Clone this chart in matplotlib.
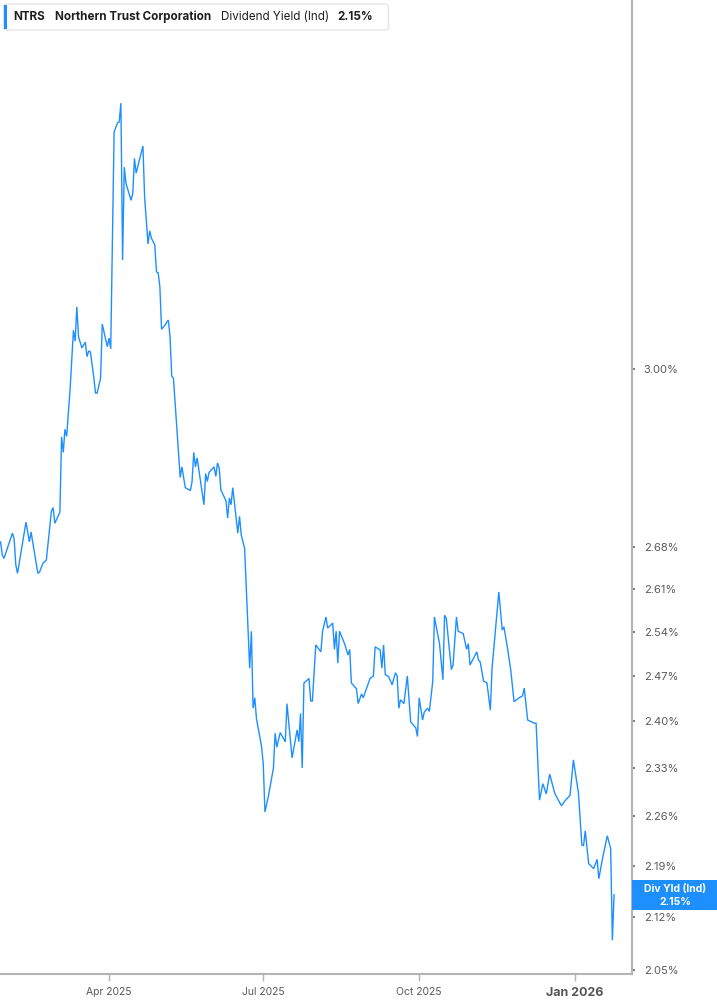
import matplotlib
matplotlib.use("Agg")
import matplotlib.pyplot as plt
import matplotlib.dates as mdates
from matplotlib.patches import FancyBboxPatch, Rectangle
from matplotlib.ticker import FixedLocator, NullLocator
import pandas as pd

plt.rcParams['font.family'] = ['Inter', 'DejaVu Sans']

ticker_sym = "NTRS"
company = "Northern Trust Corporation"
metric = "Dividend Yield (Ind)"
last_label = "2.15%"

dates = [
    "2025-01-27", "2025-01-28", "2025-01-29", "2025-02-03", "2025-02-04", "2025-02-05",
    "2025-02-06", "2025-02-11", "2025-02-13", "2025-02-14", "2025-02-18", "2025-02-19",
    "2025-02-21", "2025-02-23", "2025-02-26", "2025-02-27", "2025-02-28", "2025-03-03",
    "2025-03-04", "2025-03-05", "2025-03-06", "2025-03-07", "2025-03-09", "2025-03-11",
    "2025-03-12", "2025-03-13", "2025-03-14", "2025-03-16", "2025-03-18", "2025-03-19",
    "2025-03-20", "2025-03-21", "2025-03-23", "2025-03-24", "2025-03-25", "2025-03-27",
    "2025-03-28", "2025-03-31", "2025-04-01", "2025-04-02", "2025-04-04", "2025-04-06",
    "2025-04-07", "2025-04-08", "2025-04-09", "2025-04-10", "2025-04-11", "2025-04-14",
    "2025-04-15", "2025-04-16", "2025-04-17", "2025-04-21", "2025-04-22", "2025-04-24",
    "2025-04-25", "2025-04-26", "2025-04-28", "2025-04-29", "2025-04-30", "2025-05-01",
    "2025-05-02", "2025-05-04", "2025-05-06", "2025-05-07", "2025-05-08", "2025-05-09",
    "2025-05-13", "2025-05-14", "2025-05-16", "2025-05-19", "2025-05-20", "2025-05-21",
    "2025-05-22", "2025-05-23", "2025-05-27", "2025-05-28", "2025-05-29", "2025-05-30",
    "2025-06-02", "2025-06-03", "2025-06-04", "2025-06-05", "2025-06-06", "2025-06-09",
    "2025-06-10", "2025-06-11", "2025-06-12", "2025-06-13", "2025-06-16", "2025-06-17",
    "2025-06-18", "2025-06-20", "2025-06-23", "2025-06-24", "2025-06-25", "2025-06-26",
    "2025-06-27", "2025-06-30", "2025-07-01", "2025-07-02", "2025-07-04", "2025-07-07",
    "2025-07-08", "2025-07-09", "2025-07-11", "2025-07-14", "2025-07-15", "2025-07-18",
    "2025-07-21", "2025-07-22", "2025-07-23", "2025-07-24", "2025-07-25", "2025-07-28",
    "2025-07-29", "2025-07-30", "2025-08-01", "2025-08-04", "2025-08-05", "2025-08-07",
    "2025-08-08", "2025-08-11", "2025-08-12", "2025-08-13", "2025-08-14", "2025-08-15",
    "2025-08-18", "2025-08-20", "2025-08-21", "2025-08-22", "2025-08-25", "2025-08-26",
    "2025-08-28", "2025-08-29", "2025-09-02", "2025-09-04", "2025-09-05", "2025-09-08",
    "2025-09-09", "2025-09-10", "2025-09-11", "2025-09-13", "2025-09-15", "2025-09-17",
    "2025-09-18", "2025-09-19", "2025-09-20", "2025-09-22", "2025-09-24", "2025-09-26",
    "2025-09-29", "2025-09-30", "2025-10-01", "2025-10-03", "2025-10-04", "2025-10-06",
    "2025-10-07", "2025-10-09", "2025-10-10", "2025-10-13", "2025-10-15", "2025-10-16",
    "2025-10-17", "2025-10-20", "2025-10-21", "2025-10-23", "2025-10-24", "2025-10-27",
    "2025-10-29", "2025-10-30", "2025-10-31", "2025-11-04", "2025-11-05", "2025-11-06",
    "2025-11-08", "2025-11-10", "2025-11-12", "2025-11-13", "2025-11-15", "2025-11-17",
    "2025-11-19", "2025-11-20", "2025-11-22", "2025-11-24", "2025-11-26", "2025-11-29",
    "2025-12-01", "2025-12-02", "2025-12-04", "2025-12-08", "2025-12-09", "2025-12-11",
    "2025-12-13", "2025-12-15", "2025-12-17", "2025-12-20", "2025-12-23", "2025-12-24",
    "2025-12-26", "2025-12-29", "2025-12-31", "2026-01-03", "2026-01-05", "2026-01-06",
    "2026-01-07", "2026-01-09", "2026-01-12", "2026-01-14", "2026-01-15", "2026-01-17",
    "2026-01-20", "2026-01-22", "2026-01-23", "2026-01-24",
]

div_yield = [
    2.689, 2.667, 2.661, 2.704, 2.694, 2.650,
    2.636, 2.723, 2.689, 2.706, 2.636, 2.638,
    2.653, 2.658, 2.742, 2.748, 2.721, 2.740,
    2.874, 2.846, 2.888, 2.875, 2.961, 3.075,
    3.054, 3.121, 3.062, 3.041, 3.052, 3.024,
    3.035, 3.033, 2.985, 2.955, 2.955, 2.983,
    3.087, 3.043, 3.060, 3.039, 3.487, 3.507,
    3.509, 3.551, 3.215, 3.410, 3.375, 3.339,
    3.354, 3.429, 3.397, 3.456, 3.346, 3.248,
    3.275, 3.260, 3.246, 3.191, 3.189, 3.161,
    3.077, 3.085, 3.095, 3.062, 2.987, 2.983,
    2.801, 2.820, 2.783, 2.778, 2.794, 2.846,
    2.820, 2.836, 2.753, 2.808, 2.794, 2.810,
    2.820, 2.803, 2.827, 2.818, 2.779, 2.760,
    2.730, 2.765, 2.753, 2.783, 2.704, 2.733,
    2.701, 2.678, 2.482, 2.541, 2.420, 2.436,
    2.404, 2.362, 2.336, 2.266, 2.288, 2.330,
    2.382, 2.361, 2.383, 2.369, 2.427, 2.345,
    2.387, 2.369, 2.412, 2.330, 2.459, 2.466,
    2.431, 2.431, 2.519, 2.508, 2.541, 2.564,
    2.546, 2.554, 2.512, 2.541, 2.490, 2.541,
    2.521, 2.503, 2.512, 2.459, 2.450, 2.427,
    2.442, 2.436, 2.466, 2.470, 2.516, 2.511,
    2.482, 2.519, 2.472, 2.469, 2.456, 2.475,
    2.470, 2.420, 2.433, 2.427, 2.470, 2.399,
    2.390, 2.377, 2.436, 2.402, 2.414, 2.420,
    2.415, 2.461, 2.564, 2.521, 2.464, 2.567,
    2.562, 2.480, 2.487, 2.564, 2.541, 2.537,
    2.512, 2.521, 2.487, 2.508, 2.495, 2.492,
    2.462, 2.459, 2.417, 2.482, 2.543, 2.605,
    2.543, 2.548, 2.516, 2.480, 2.430, 2.436,
    2.439, 2.451, 2.402, 2.397, 2.397, 2.283,
    2.307, 2.292, 2.321, 2.293, 2.279, 2.275,
    2.282, 2.290, 2.342, 2.293, 2.219, 2.218,
    2.239, 2.193, 2.186, 2.199, 2.172, 2.198,
    2.232, 2.214, 2.089, 2.150,
]

ytick_vals = [2.05, 2.12, 2.19, 2.26, 2.33, 2.40, 2.47, 2.54, 2.61, 2.68, 3.00]
xtick_dates = ["2025-04-01", "2025-07-01", "2025-10-01", "2026-01-01"]
xtick_labels = ["Apr 2025", "Jul 2025", "Oct 2025", "Jan 2026"]

W, H = 717, 1005
line_color = "#1e8fff"
axis_color = "#b4b4b4"
label_color = "#5a5a5a"

x = pd.to_datetime(dates)

fig = plt.figure(figsize=(W / 100, H / 100), dpi=100)
ax = fig.add_axes([0, 31 / H, 632 / W, 974 / H])

ax.plot(x, div_yield, color=line_color, lw=1.0, solid_joinstyle="miter")

ax.set_yscale("log")
ax.set_ylim(2.0448, 3.791)
ax.set_xlim(pd.Timestamp("2025-01-26 16:00"), pd.Timestamp("2026-02-03 14:00"))

for side in ["left", "top"]:
    ax.spines[side].set_visible(False)
for side in ["right", "bottom"]:
    ax.spines[side].set_color(axis_color)
    ax.spines[side].set_linewidth(1.5)

ax.yaxis.tick_right()
ax.yaxis.set_major_locator(FixedLocator(ytick_vals))
ax.yaxis.set_minor_locator(NullLocator())
ax.set_yticklabels([f"{v:.2f}%" for v in ytick_vals])
ax.tick_params(axis="y", which="major", length=2.5, width=1.5, color="#808080",
               pad=6, labelsize=8, labelcolor=label_color)

ax.set_xticks(pd.to_datetime(xtick_dates))
ax.set_xticklabels(xtick_labels)
ax.tick_params(axis="x", length=5, width=1, color=axis_color, pad=4,
               labelsize=7.5, labelcolor=label_color)
jan = ax.get_xticklabels()[-1]
jan.set_fontweight("bold")
jan.set_fontsize(9)
jan.set_color("#555555")


def fx(px):
    return px / W


def fy(py):
    return 1 - py / H


# header legend box
fig.patches.append(FancyBboxPatch((fx(3.5), fy(30)), fx(385), 26 / H,
                                  boxstyle="round,pad=0,rounding_size=0.004",
                                  transform=fig.transFigure, facecolor="white",
                                  edgecolor="#e4e4e4", lw=1.0, zorder=5))
fig.patches.append(Rectangle((fx(3.5), fy(29)), fx(3), 24 / H,
                             transform=fig.transFigure, facecolor=line_color,
                             edgecolor="none", zorder=6))
hy = fy(17)
hsize = 8.4
fig.text(fx(13), hy, ticker_sym, fontsize=hsize, fontweight="bold", color="#1f1f1f",
         va="center", zorder=7)
fig.text(fx(55), hy, company, fontsize=hsize, fontweight="bold", color="#1f1f1f",
         va="center", zorder=7)
fig.text(fx(221), hy, metric, fontsize=hsize, color="#1f1f1f", va="center", zorder=7)
fig.text(fx(337), hy, last_label, fontsize=hsize, fontweight="bold", color="#1f1f1f",
         va="center", zorder=7)

# last value box on the right axis
last_disp = ax.transData.transform((mdates.date2num(x[-1]), div_yield[-1]))[1]
box_c = last_disp / fig.bbox.height
fig.patches.append(Rectangle((fx(632), box_c - 15 / H), fx(85), 30 / H,
                             transform=fig.transFigure, facecolor=line_color,
                             edgecolor="none", zorder=5))
fig.text(fx(675), box_c + 6 / H, "Div Yld (Ind)", fontsize=7.5, fontweight="bold",
         color="white", ha="center", va="center", zorder=6)
fig.text(fx(675), box_c - 7 / H, last_label, fontsize=7.5, fontweight="bold",
         color="white", ha="center", va="center", zorder=6)

fig.savefig("out.png", dpi=100)
